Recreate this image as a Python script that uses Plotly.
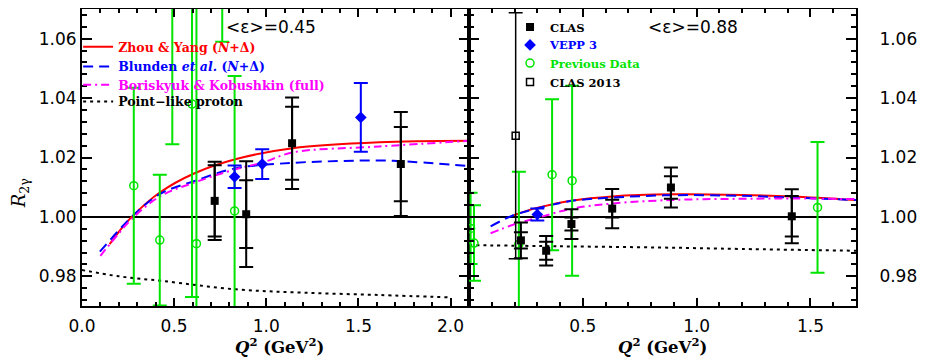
import plotly.graph_objects as go
from plotly.subplots import make_subplots

# ---------------- data: <eps> = 0.45 (left panel) ----------------
clas45_x = [0.72, 0.891, 1.14, 1.73]
clas45_y = [1.0054, 1.0009, 1.0248, 1.0178]
clas45_stat = [0.012, 0.0114, 0.0123, 0.0125]
clas45_tot = [0.0132, 0.0178, 0.0154, 0.0175]

vepp45_x = [0.828, 0.978, 1.513]
vepp45_y = [1.0135, 1.0178, 1.0335]
vepp45_err = [0.0038, 0.005, 0.0116]

prev45_x = [0.281, 0.422, 0.49, 0.597, 0.621, 0.761, 0.828]
prev45_y = [1.0105, 0.9922, 1.08, 1.038, 0.991, 1.10, 1.002]
prev45_err = [0.033, 0.022, 0.0555, 0.065, 0.09, 0.041, 0.0454]

zy45_x = [0.15, 0.2, 0.27, 0.422, 0.611, 0.837, 1.143, 1.613, 2.1]
zy45_y = [0.9908, 0.995, 1.0, 1.0082, 1.0147, 1.0195, 1.0231, 1.0251, 1.0256]
bl45_x = [0.097, 0.2, 0.27, 0.422, 0.611, 0.837, 1.143, 1.4, 1.613, 1.8, 2.1]
bl45_y = [0.9883, 0.9955, 1.0, 1.0077, 1.0121, 1.0164, 1.0182, 1.0188, 1.019, 1.0185, 1.0171]
bk45_x = [0.1, 0.2, 0.27, 0.422, 0.611, 0.837, 0.98, 1.143, 1.613, 2.1]
bk45_y = [0.9869, 0.9945, 0.9993, 1.0069, 1.0116, 1.0161, 1.0183, 1.0217, 1.0237, 1.0256]
pt45_x = [0.0, 0.2, 0.44, 0.837, 1.2, 1.613, 1.99]
pt45_y = [0.9821, 0.9800, 0.9784, 0.9756, 0.9745, 0.9737, 0.9729]

# ---------------- data: <eps> = 0.88 (right panel) ----------------
clas88_x = [0.228, 0.339, 0.45, 0.629, 0.887, 1.418]
clas88_y = [0.9921, 0.9886, 0.9976, 1.0028, 1.0099, 1.0002]
clas88_stat = [0.0027, 0.003, 0.0022, 0.003, 0.0038, 0.0068]
clas88_tot = [0.006, 0.005, 0.005, 0.0066, 0.0067, 0.0091]

vepp88_x = [0.30]
vepp88_y = [1.0008]
vepp88_err = [0.002]

prev88_x = [0.007, 0.022, 0.219, 0.365, 0.453, 1.531]
prev88_y = [0.9961, 0.9912, 0.9908, 1.0142, 1.0122, 1.0032]
prev88_err = [0.012, 0.0127, 0.0244, 0.0254, 0.032, 0.022]

clas13_x = [0.205]
clas13_y = [1.0273]
clas13_err = [0.0414]

zy88_x = [0.197, 0.307, 0.453, 0.629, 0.892, 1.2, 1.418, 1.7]
zy88_y = [1.0006, 1.0032, 1.0055, 1.0069, 1.0076, 1.0074, 1.0069, 1.0057]
bl88_x = [0.095, 0.19, 0.307, 0.453, 0.629, 0.892, 1.2, 1.418, 1.7]
bl88_y = [0.9968, 1.0004, 1.003, 1.0054, 1.0065, 1.0073, 1.0071, 1.0065, 1.0057]
bk88_x = [0.095, 0.2, 0.307, 0.453, 0.629, 0.892, 1.2, 1.418, 1.7]
bk88_y = [0.9945, 0.9975, 0.9998, 1.0028, 1.0045, 1.0057, 1.0061, 1.0062, 1.006]
pt88_x = [0.0, 0.4, 0.833, 1.2, 1.7]
pt88_y = [0.9905, 0.9901, 0.9897, 0.9892, 0.9886]

x_range_45 = [0, 2.1]
x_range_88 = [0, 1.7]
y_range = [0.970, 1.070]
x_ticks_45 = [0.0, 0.5, 1.0, 1.5, 2.0]
x_ticks_88 = [0.5, 1.0, 1.5]
y_ticks = [0.98, 1.00, 1.02, 1.04, 1.06]

RED, BLUE, MAG, GREEN, BLACK = "#ff0000", "#0000ff", "#ff00ff", "#00e400", "#000000"
SERIF = "DejaVu Serif"
SANS = "DejaVu Sans"

curve_names = [
    "<b>Zhou &amp; Yang (<i>N</i>+Δ)</b>",
    "<b>Blunden <i>et al.</i> (<i>N</i>+Δ)</b>",
    "<b>Boriskyuk &amp; Kobushkin (full)</b>",
    "<b>Point−like proton</b>",
]
curve_colors = [RED, BLUE, MAG, BLACK]
data_names = ["<b>CLAS</b>", "<b>VEPP 3</b>", "<b>Previous Data</b>", "<b>CLAS 2013</b>"]
data_colors = [BLACK, BLUE, GREEN, BLACK]

# legend rows: one legend per entry so each row is placed like the reference
curve_leg_ids = ["legend", "legend2", "legend3", "legend4"]
curve_leg_y = [0.872, 0.805, 0.744, 0.687]
data_leg_ids = ["legend5", "legend6", "legend7", "legend8"]
data_leg_y = [0.939, 0.879, 0.818, 0.754]

fig = make_subplots(rows=1, cols=2, horizontal_spacing=0.0)


def eb(arr, color, width=7, thick=2):
    return dict(type="data", array=arr, symmetric=True, color=color, width=width, thickness=thick)


# horizontal reference lines at 1.00
for col, xr in ((1, x_range_45), (2, x_range_88)):
    fig.add_trace(go.Scatter(x=xr, y=[1.0, 1.0], mode="lines", line=dict(color=BLACK, width=2),
                             showlegend=False, hoverinfo="skip"), row=1, col=col)

# theory curves
curves = [
    (zy45_x, zy45_y, zy88_x, zy88_y, dict(color=RED, width=2, dash="solid")),
    (bl45_x, bl45_y, bl88_x, bl88_y, dict(color=BLUE, width=2, dash="10px,6px")),
    (bk45_x, bk45_y, bk88_x, bk88_y, dict(color=MAG, width=2, dash="8px,4px,2px,4px")),
    (pt45_x, pt45_y, pt88_x, pt88_y, dict(color=BLACK, width=2, dash="3px,4px")),
]
for i, (x1, y1, x2, y2, ln) in enumerate(curves):
    fig.add_trace(go.Scatter(x=x1, y=y1, mode="lines", line=dict(shape="spline", **ln),
                             name=curve_names[i], legend=curve_leg_ids[i], showlegend=True), row=1, col=1)
    fig.add_trace(go.Scatter(x=x2, y=y2, mode="lines", line=dict(shape="spline", **ln),
                             showlegend=False), row=1, col=2)

# previous data (green open circles)
for col, xs, ys, es, show in ((1, prev45_x, prev45_y, prev45_err, False),
                              (2, prev88_x, prev88_y, prev88_err, True)):
    fig.add_trace(go.Scatter(x=xs, y=ys, mode="markers",
                             marker=dict(symbol="circle-open", size=8, color=GREEN, line=dict(width=1.5, color=GREEN)),
                             error_y=eb(es, GREEN), name=data_names[2], legend=data_leg_ids[2],
                             showlegend=show), row=1, col=col)

# CLAS 2013 (open square)
fig.add_trace(go.Scatter(x=clas13_x, y=clas13_y, mode="markers",
                         marker=dict(symbol="square-open", size=7, color=BLACK, line=dict(width=1.5, color=BLACK)),
                         error_y=eb(clas13_err, BLACK, thick=1.5), name=data_names[3], legend=data_leg_ids[3],
                         showlegend=True), row=1, col=2)

# VEPP 3 (blue diamonds)
for col, xs, ys, es, show in ((1, vepp45_x, vepp45_y, vepp45_err, False),
                              (2, vepp88_x, vepp88_y, vepp88_err, True)):
    fig.add_trace(go.Scatter(x=xs, y=ys, mode="markers",
                             marker=dict(symbol="diamond", size=9, color=BLUE),
                             error_y=eb(es, BLUE), name=data_names[1], legend=data_leg_ids[1],
                             showlegend=show), row=1, col=col)

# CLAS (filled squares): statistical + total error bars
for col, xs, ys, st, tot, show in ((1, clas45_x, clas45_y, clas45_stat, clas45_tot, False),
                                   (2, clas88_x, clas88_y, clas88_stat, clas88_tot, True)):
    fig.add_trace(go.Scatter(x=xs, y=ys, mode="markers",
                             marker=dict(symbol="square", size=1, color=BLACK, opacity=0),
                             error_y=eb(st, BLACK), showlegend=False, hoverinfo="skip"), row=1, col=col)
    fig.add_trace(go.Scatter(x=xs, y=ys, mode="markers",
                             marker=dict(symbol="square", size=8, color=BLACK),
                             error_y=eb(tot, BLACK), name=data_names[0], legend=data_leg_ids[0],
                             showlegend=show), row=1, col=col)

axis_common = dict(showline=True, linecolor=BLACK, linewidth=2, mirror="allticks", ticks="inside",
                   tickcolor=BLACK, tickwidth=2, showgrid=False, zeroline=False, automargin=False,
                   tickfont=dict(family=SANS, size=17, color=BLACK))
minor_x = dict(dtick=0.1, tick0=0, ticklen=4, ticks="inside", tickwidth=1.5, tickcolor=BLACK)
minor_y = dict(dtick=0.004, tick0=0.98, ticklen=5, ticks="inside", tickwidth=1.5, tickcolor=BLACK)

fig.update_xaxes(range=x_range_45, tickvals=x_ticks_45, ticktext=[f"{v:.1f}" for v in x_ticks_45],
                 ticklen=8, ticklabelstandoff=4, minor=minor_x, **axis_common, row=1, col=1)
fig.update_xaxes(range=x_range_88, tickvals=x_ticks_88, ticktext=[f"{v:.1f}" for v in x_ticks_88],
                 ticklen=8, ticklabelstandoff=4, minor=minor_x, **axis_common, row=1, col=2)
fig.update_yaxes(range=y_range, tickvals=y_ticks, ticktext=[f"{v:.2f}" for v in y_ticks],
                 ticklen=10, minor=minor_y, **axis_common, row=1, col=1)
fig.update_yaxes(range=y_range, tickvals=y_ticks, ticktext=[f"{v:.2f}" for v in y_ticks], side="right",
                 ticklen=10, ticklabelstandoff=18, minor=minor_y, **axis_common, row=1, col=2)

title_txt = "<b><i>Q</i><sup>2</sup> (GeV<sup>2</sup>)</b>"
annotations = [
    dict(text="&lt;ε&gt;=0.45", xref="x domain", yref="y domain", x=0.488, y=0.941, showarrow=False,
         xanchor="center", yanchor="middle", font=dict(family=SANS, size=17, color=BLACK)),
    dict(text="&lt;ε&gt;=0.88", xref="x2 domain", yref="y2 domain", x=0.578, y=0.941, showarrow=False,
         xanchor="center", yanchor="middle", font=dict(family=SANS, size=17, color=BLACK)),
    dict(text=title_txt, xref="x domain", yref="paper", x=0.51, y=-0.135, showarrow=False,
         xanchor="center", yanchor="middle", font=dict(family=SERIF, size=16.5, color=BLACK)),
    dict(text=title_txt, xref="x2 domain", yref="paper", x=0.5, y=-0.135, showarrow=False,
         xanchor="center", yanchor="middle", font=dict(family=SERIF, size=16.5, color=BLACK)),
    dict(text="<i>R</i><sub>2γ</sub>", xref="paper", yref="paper", x=-0.08, y=0.38, showarrow=False,
         textangle=-90, xanchor="center", yanchor="middle", font=dict(family=SERIF, size=18, color=BLACK)),
]

legends = {}
for lid, ly, col in zip(curve_leg_ids, curve_leg_y, curve_colors):
    legends[lid] = dict(x=-0.005, y=ly, xanchor="left", yanchor="middle", bgcolor="rgba(0,0,0,0)",
                        font=dict(family=SERIF, size=12.5, color=col), itemwidth=30)
for lid, ly, col in zip(data_leg_ids, data_leg_y, data_colors):
    legends[lid] = dict(x=0.553, y=ly, xanchor="left", yanchor="middle", bgcolor="rgba(0,0,0,0)",
                        font=dict(family=SERIF, size=11.5, color=col), itemwidth=30)

# the page body adds an 8px offset, so the figure is 8px smaller and margins compensate
fig.update_layout(
    width=919, height=353,
    margin=dict(l=74, r=71, t=1, b=55),
    paper_bgcolor="white", plot_bgcolor="white",
    annotations=annotations,
    **legends,
)

fig.write_html("out.html")
